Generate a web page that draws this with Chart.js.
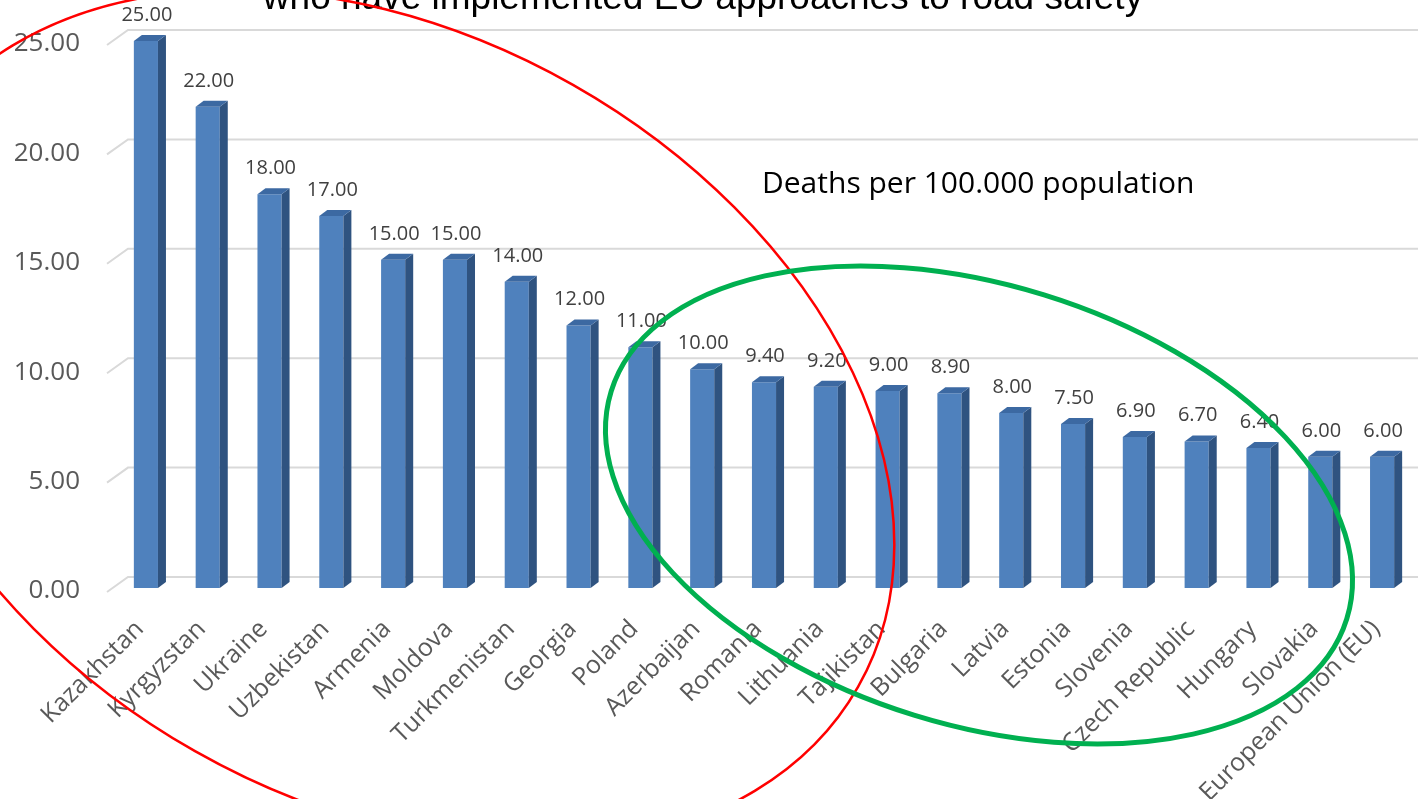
<!DOCTYPE html>
<html>
<head>
<meta charset="utf-8">
<script src="https://cdn.jsdelivr.net/npm/chart.js@4.4.1/dist/chart.umd.min.js"></script>
<style>
  html, body { margin: 0; padding: 0; background: #ffffff; }
  #wrap { position: relative; width: 1418px; height: 799px; }
</style>
</head>
<body>
<div id="wrap"><canvas id="chart"></canvas></div>
<script>
// Road deaths per 100 000 population, by country
const countries = [
  'Kazakhstan', 'Kyrgyzstan', 'Ukraine', 'Uzbekistan', 'Armenia', 'Moldova',
  'Turkmenistan', 'Georgia', 'Poland', 'Azerbaijan', 'Romania', 'Lithuania',
  'Tajikistan', 'Bulgaria', 'Latvia', 'Estonia', 'Slovenia', 'Czech Republic',
  'Hungary', 'Slovakia', 'European Union (EU)'
];
const deathsPer100k = [
  25.00, 22.00, 18.00, 17.00, 15.00, 15.00, 14.00, 12.00, 11.00, 10.00, 9.40,
  9.20, 9.00, 8.90, 8.00, 7.50, 6.90, 6.70, 6.40, 6.00, 6.00
];
const yTicks = [0, 5, 10, 15, 20, 25];

const headline = 'who have implemented EU approaches to road safety';
const unitNote = 'Deaths per 100.000 population';

const FRONT = '#4F81BD';
const SIDE = '#2F5380';
const TOP = '#3C69A2';
const DEPTH_X = 8, DEPTH_Y = 6;

// back-wall gridlines with a short perspective segment on the left
const wallGrid = {
  id: 'wallGrid',
  beforeDatasetsDraw(chart) {
    const { ctx, scales: { y }, chartArea } = chart;
    ctx.save();
    ctx.strokeStyle = '#d9d9d9';
    ctx.lineWidth = 2;
    yTicks.forEach(v => {
      const py = y.getPixelForValue(v);
      ctx.beginPath();
      ctx.moveTo(chartArea.left - 8, py + 4);
      ctx.lineTo(chartArea.left + 13, py - 11);
      ctx.lineTo(chart.width, py - 11);
      ctx.stroke();
    });
    ctx.restore();
  }
};

// side and top faces of each bar, plus the value above it
const bar3d = {
  id: 'bar3d',
  afterDatasetsDraw(chart) {
    const { ctx } = chart;
    const meta = chart.getDatasetMeta(0);
    ctx.save();
    meta.data.forEach((bar, i) => {
      const { x, y, base, width } = bar.getProps(['x', 'y', 'base', 'width'], true);
      const l = x - width / 2, r = x + width / 2;
      ctx.fillStyle = SIDE;
      ctx.beginPath();
      ctx.moveTo(r, y);
      ctx.lineTo(r + DEPTH_X, y - DEPTH_Y);
      ctx.lineTo(r + DEPTH_X, base - DEPTH_Y);
      ctx.lineTo(r, base);
      ctx.closePath();
      ctx.fill();
      ctx.fillStyle = TOP;
      ctx.beginPath();
      ctx.moveTo(l, y);
      ctx.lineTo(l + DEPTH_X, y - DEPTH_Y);
      ctx.lineTo(r + DEPTH_X, y - DEPTH_Y);
      ctx.lineTo(r, y);
      ctx.closePath();
      ctx.fill();

      ctx.fillStyle = '#404040';
      ctx.font = '20px "Open Sans"';
      ctx.textAlign = 'center';
      ctx.textBaseline = 'alphabetic';
      ctx.fillText(deathsPer100k[i].toFixed(2), x + 1, y - 20);
    });
    ctx.restore();
  }
};

// country names, slanted at 45 degrees under each bar
const slantedLabels = {
  id: 'slantedLabels',
  afterDraw(chart) {
    const { ctx, scales: { x }, chartArea } = chart;
    ctx.save();
    ctx.fillStyle = '#595959';
    ctx.font = '25px "Open Sans"';
    ctx.textAlign = 'right';
    ctx.textBaseline = 'middle';
    countries.forEach((name, i) => {
      const px = x.getPixelForTick(i);
      ctx.save();
      ctx.translate(px - 6, chartArea.bottom + 37);
      ctx.rotate(-Math.PI / 4);
      ctx.fillText(name, 0, 0);
      ctx.restore();
    });
    ctx.restore();
  }
};

// headline, unit note and the two grouping ellipses
const overlay = {
  id: 'overlay',
  afterDraw(chart) {
    const { ctx } = chart;
    ctx.save();
    ctx.fillStyle = '#000000';
    ctx.font = '37px "Liberation Sans"';
    ctx.textAlign = 'center';
    ctx.textBaseline = 'alphabetic';
    ctx.fillText(headline, 703, 9);

    ctx.font = '30px "Open Sans"';
    ctx.textAlign = 'left';
    ctx.fillText(unitNote, 762, 193);

    ctx.strokeStyle = '#FF0000';
    ctx.lineWidth = 2.5;
    ctx.beginPath();
    ctx.ellipse(384, 418, 545, 383, 0.516, 0, Math.PI * 2);
    ctx.stroke();

    ctx.strokeStyle = '#00B050';
    ctx.lineWidth = 5;
    ctx.beginPath();
    ctx.ellipse(979, 505, 385, 220, 0.30, 0, Math.PI * 2);
    ctx.stroke();
    ctx.restore();
  }
};

new Chart(document.getElementById('chart'), {
  type: 'bar',
  data: {
    labels: countries,
    datasets: [{
      data: deathsPer100k,
      backgroundColor: FRONT,
      borderWidth: 0,
      barPercentage: 0.39,
      categoryPercentage: 1.0
    }]
  },
  options: {
    responsive: true,
    maintainAspectRatio: false,
    animation: false,
    devicePixelRatio: 1,
    layout: { padding: { top: 41, right: 5, left: 0, bottom: 0 } },
    plugins: { legend: { display: false }, tooltip: { enabled: false } },
    scales: {
      x: {
        grid: { display: false, drawTicks: false },
        border: { display: false },
        ticks: { display: false, autoSkip: false },
        afterFit(s) { s.height = 211; s.paddingLeft = 0; s.paddingRight = 0; }
      },
      y: {
        min: 0,
        max: 25,
        grid: { display: false, drawTicks: false },
        border: { display: false },
        afterBuildTicks(s) { s.ticks = yTicks.map(v => ({ value: v })); },
        ticks: {
          padding: 35,
          labelOffset: 3,
          color: '#595959',
          font: { family: 'Open Sans', size: 26 },
          callback: v => Number(v).toFixed(2)
        },
        afterFit(s) { s.width = 115; s.paddingTop = 0; s.paddingBottom = 0; }
      }
    }
  },
  plugins: [wallGrid, bar3d, slantedLabels, overlay]
});
</script>
</body>
</html>
